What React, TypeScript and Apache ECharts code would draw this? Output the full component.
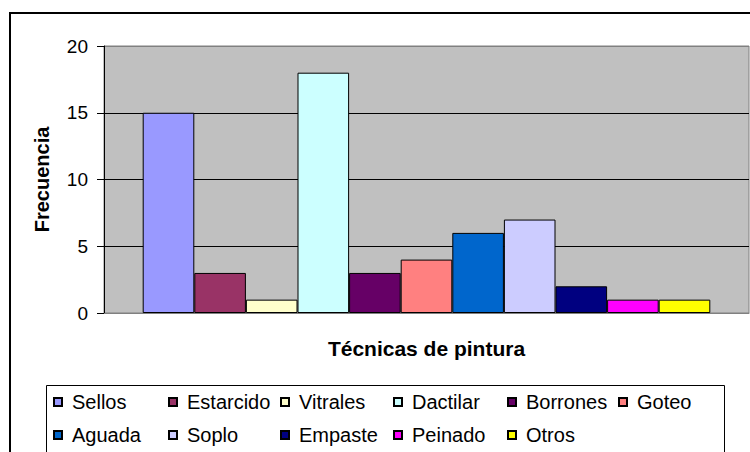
import React, { useEffect, useRef } from "react";
import * as echarts from "echarts";

const techniques = ["Sellos", "Estarcido", "Vitrales", "Dactilar", "Borrones", "Goteo", "Aguada", "Soplo", "Empaste", "Peinado", "Otros"];
const frequencies = [15, 3, 1, 18, 3, 4, 6, 7, 2, 1, 1];
const colors = ["#9999FF", "#993366", "#FFFFCC", "#CCFFFF", "#660066", "#FF8080", "#0066CC", "#CCCCFF", "#000080", "#FF00FF", "#FFFF00"];
const yTicks = [0, 5, 10, 15, 20];
const xTitle = "Técnicas de pintura";
const yTitle = "Frecuencia";

const FONT = "Liberation Sans";

// legend grid placement (icon left x, row center y)
const legendCols = [53, 168, 280, 393, 507, 618];
const legendRows = [402, 435];

export default function App() {
  const ref = useRef<HTMLDivElement>(null);
  useEffect(() => {
    if (!ref.current) return;
    const chart = echarts.init(ref.current, undefined, { renderer: "svg" });

    const series = techniques.map((name, i) => ({
      name,
      type: "bar",
      data: [frequencies[i]],
      barGap: "0%",
      barCategoryGap: "12%",
      itemStyle: { color: colors[i], borderColor: "#000", borderWidth: 1 },
    }));

    const legends = techniques.map((name, i) => {
      const col = i % 6;
      const row = Math.floor(i / 6);
      return {
        data: [name],
        left: legendCols[col],
        top: legendRows[row] - 11,
        padding: 0,
        itemWidth: 8,
        itemHeight: 8,
        icon: "rect",
        selectedMode: false,
        textStyle: { fontFamily: FONT, fontSize: 20, color: "#000", lineHeight: 22, padding: [0, 0, 0, 5] },
      };
    });

    chart.setOption({
      animation: false,
      backgroundColor: "#fff",
      textStyle: { fontFamily: FONT },
      graphic: [
        { type: "rect", shape: { x: 10, y: 13, width: 800, height: 500 }, style: { fill: "none", stroke: "#000", lineWidth: 2 }, silent: true },
        { type: "rect", shape: { x: 46.5, y: 385.5, width: 678, height: 100 }, style: { fill: "none", stroke: "#000", lineWidth: 1 }, silent: true },
      ],
      legend: legends,
      grid: {
        left: 104,
        top: 46,
        right: 1,
        bottom: 139,
        show: true,
        backgroundColor: "#C0C0C0",
        borderColor: "#808080",
        borderWidth: 1,
      },
      xAxis: {
        type: "category",
        data: [""],
        axisLine: { show: true, lineStyle: { color: "#808080" } },
        axisTick: { show: false },
        axisLabel: { show: false },
        name: xTitle,
        nameLocation: "middle",
        nameGap: 25,
        nameTextStyle: { fontFamily: FONT, fontSize: 21, fontWeight: "bold", color: "#000" },
      },
      yAxis: {
        type: "value",
        min: yTicks[0],
        max: yTicks[yTicks.length - 1],
        interval: 5,
        axisLine: { show: true, lineStyle: { color: "#000" } },
        axisTick: { show: true, inside: false, length: 7, lineStyle: { color: "#000" } },
        axisLabel: { fontFamily: FONT, fontSize: 19, color: "#000", margin: 16 },
        splitLine: { show: true, lineStyle: { color: ["#808080", "#000", "#000", "#000", "#808080"], width: 1 } },
        name: yTitle,
        nameLocation: "middle",
        nameRotate: 90,
        nameGap: 52,
        nameTextStyle: { fontFamily: FONT, fontSize: 20, fontWeight: "bold", color: "#000" },
      },
      series,
    });
    return () => chart.dispose();
  }, []);
  return <div ref={ref} style={{ position: "absolute", left: 0, top: 0, width: 750, height: 452 }} />;
}
